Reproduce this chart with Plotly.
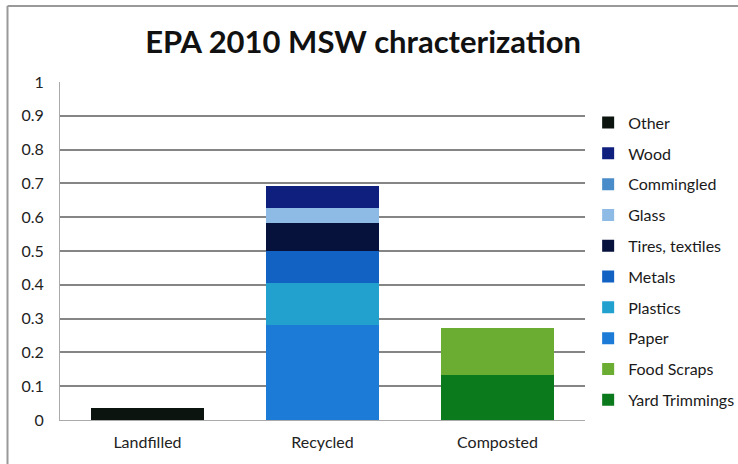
import plotly.graph_objects as go

# Disposal pathways on the x axis
categories = ["Landfilled", "Recycled", "Composted"]

# Material fractions per pathway (stacked bottom to top)
materials = ["Yard Trimmings", "Food Scraps", "Paper", "Plastics", "Metals",
             "Tires, textiles", "Glass", "Commingled", "Wood", "Other"]
yard_trimmings = [0, 0, 0.133]
food_scraps = [0, 0, 0.140]
paper = [0, 0.282, 0]
plastics = [0, 0.124, 0]
metals = [0, 0.093, 0]
tires_textiles = [0, 0.083, 0]
glass = [0, 0.044, 0]
commingled = [0, 0, 0]
wood = [0, 0.065, 0]
other = [0.035, 0, 0]

series = [yard_trimmings, food_scraps, paper, plastics, metals,
          tires_textiles, glass, commingled, wood, other]
colors = ["#0b7a1c", "#6aad32", "#1b7bd6", "#22a1cf", "#1262c4",
          "#07123c", "#8dbbe6", "#4a8bc9", "#0f1f7e", "#0b140f"]

y_ticks = [0, 0.1, 0.2, 0.3, 0.4, 0.5, 0.6, 0.7, 0.8, 0.9, 1]
y_tick_text = ["0", "0.1", "0.2", "0.3", "0.4", "0.5", "0.6", "0.7", "0.8", "0.9", "1"]

fig = go.Figure()
n = len(materials)
for i, (name, vals, col) in enumerate(zip(materials, series, colors)):
    # legend lists the top of the stack first
    fig.add_trace(go.Bar(
        name=name, x=categories, y=vals, legendgroup=name, legendrank=n - i,
        marker=dict(color=col, line=dict(width=0)),
    ))

font_family = "Lato, 'Open Sans', sans-serif"

fig.update_layout(
    width=738, height=464,
    barmode="stack", bargap=0.35,
    plot_bgcolor="white", paper_bgcolor="white",
    margin=dict(l=60, r=153, t=82, b=44, autoexpand=False),
    title=dict(text="<b>EPA 2010 MSW chracterization</b>",
               x=0.492, xanchor="center", xref="container", y=0.91, yanchor="middle",
               font=dict(family=font_family, size=31, color="#111111")),
    font=dict(family=font_family, color="#222222"),
    legend=dict(traceorder="grouped", tracegroupgap=7,
                x=1.006, xanchor="left", y=0.93, yanchor="top",
                font=dict(size=16, color="#1a1a1a"),
                itemwidth=30, bgcolor="rgba(0,0,0,0)"),
    xaxis=dict(showgrid=False, showline=True, linecolor="#aaaaaa", linewidth=1,
               ticks="", tickfont=dict(size=16, color="#222222"), ticklabelstandoff=8),
    yaxis=dict(range=[0, 1], tickvals=y_ticks, ticktext=y_tick_text,
               showgrid=True, gridcolor="#858585", gridwidth=1.5,
               showline=True, linecolor="#aaaaaa", linewidth=1,
               ticks="", ticklabelstandoff=12,
               tickfont=dict(size=16, color="#222222"), zeroline=False),
    shapes=[
        # chart frame: top and left edges
        dict(type="line", xref="paper", yref="paper", x0=-0.1, x1=1.45, y0=1.225, y1=1.225,
             line=dict(color="#999999", width=2)),
        dict(type="line", xref="paper", yref="paper", x0=-0.1, x1=-0.1, y0=1.225, y1=-0.14,
             line=dict(color="#999999", width=2)),
    ],
)

fig.write_html("out.html")
